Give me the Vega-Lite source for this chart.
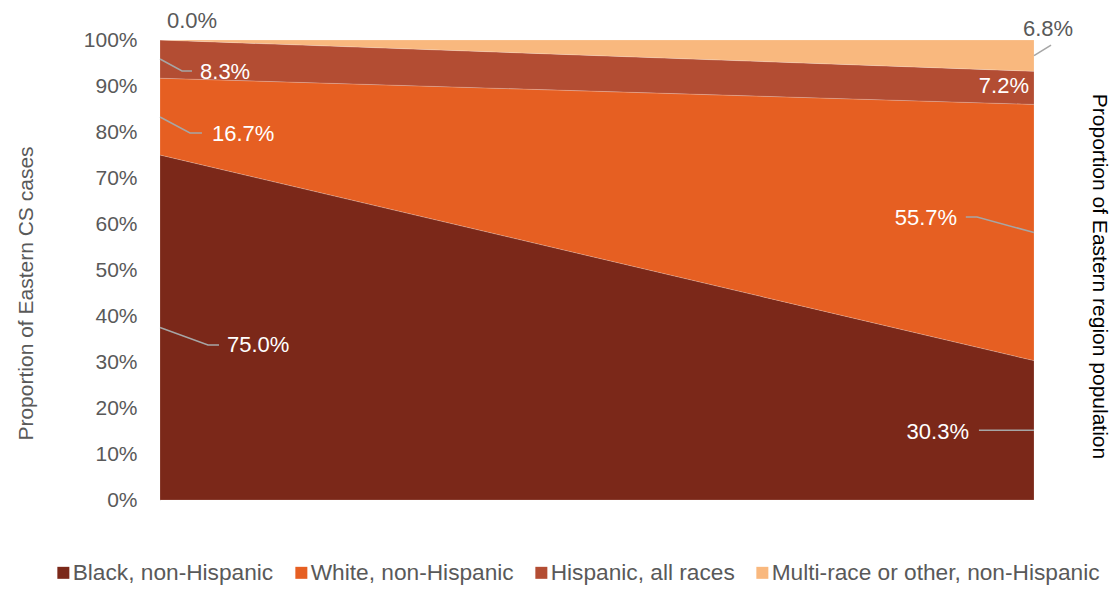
{
  "$schema": "https://vega.github.io/schema/vega-lite/v6.json",
  "autosize": {"type": "none"},
  "padding": {"left": 160, "top": 40, "right": 82, "bottom": 90},
  "width": 874,
  "height": 460,
  "background": "#ffffff",
  "config": {
    "font": "Liberation Sans",
    "view": {"stroke": null}
  },
  "datasets": {
    "shares": [
      {"group": "Black, non-Hispanic", "ord": 1, "side": 0, "pct": 75.0},
      {"group": "Black, non-Hispanic", "ord": 1, "side": 1, "pct": 30.3},
      {"group": "White, non-Hispanic", "ord": 2, "side": 0, "pct": 16.7},
      {"group": "White, non-Hispanic", "ord": 2, "side": 1, "pct": 55.7},
      {"group": "Hispanic, all races", "ord": 3, "side": 0, "pct": 8.3},
      {"group": "Hispanic, all races", "ord": 3, "side": 1, "pct": 7.2},
      {"group": "Multi-race or other, non-Hispanic", "ord": 4, "side": 0, "pct": 0.0},
      {"group": "Multi-race or other, non-Hispanic", "ord": 4, "side": 1, "pct": 6.8}
    ],
    "leaders": [
      {"id": "L1", "seq": 1, "lx": 0, "ly": 95.87},
      {"id": "L1", "seq": 2, "lx": 0.0252, "ly": 93.26},
      {"id": "L1", "seq": 3, "lx": 0.0366, "ly": 93.26},
      {"id": "L2", "seq": 1, "lx": 0, "ly": 83.26},
      {"id": "L2", "seq": 2, "lx": 0.0343, "ly": 79.78},
      {"id": "L2", "seq": 3, "lx": 0.048, "ly": 79.78},
      {"id": "L3", "seq": 1, "lx": 0, "ly": 37.5},
      {"id": "L3", "seq": 2, "lx": 0.0549, "ly": 33.7},
      {"id": "L3", "seq": 3, "lx": 0.0675, "ly": 33.7},
      {"id": "L4", "seq": 1, "lx": 0.922, "ly": 61.5},
      {"id": "L4", "seq": 2, "lx": 0.9348, "ly": 61.5},
      {"id": "L4", "seq": 3, "lx": 1, "ly": 58.15},
      {"id": "L5", "seq": 1, "lx": 0.937, "ly": 15.15},
      {"id": "L5", "seq": 2, "lx": 1, "ly": 15.15},
      {"id": "L6", "seq": 1, "lx": 1, "ly": 96.6},
      {"id": "L6", "seq": 2, "lx": 1.0195, "ly": 98.9}
    ],
    "labels": [
      {"text": "0.0%", "tx": 0.008, "ty": 104.1, "al": "left", "inside": "no"},
      {"text": "8.3%", "tx": 0.0458, "ty": 93.0, "al": "left", "inside": "yes"},
      {"text": "16.7%", "tx": 0.0595, "ty": 79.6, "al": "left", "inside": "yes"},
      {"text": "75.0%", "tx": 0.0767, "ty": 33.7, "al": "left", "inside": "yes"},
      {"text": "55.7%", "tx": 0.912, "ty": 61.3, "al": "right", "inside": "yes"},
      {"text": "30.3%", "tx": 0.9256, "ty": 14.8, "al": "right", "inside": "yes"},
      {"text": "7.2%", "tx": 0.9943, "ty": 90.0, "al": "right", "inside": "yes"},
      {"text": "6.8%", "tx": 0.9874, "ty": 102.4, "al": "left", "inside": "no"}
    ]
  },
  "layer": [
    {
      "data": {"name": "shares"},
      "mark": {"type": "area", "stroke": "#ffffff", "strokeWidth": 0.5, "strokeOpacity": 0.35},
      "encoding": {
        "x": {
          "field": "side", "type": "quantitative",
          "scale": {"domain": [0, 1], "nice": false, "zero": false},
          "axis": {"labels": false, "ticks": false, "grid": false, "title": null, "domainColor": "#d9d9d9", "domainWidth": 1}
        },
        "y": {
          "field": "pct", "type": "quantitative", "stack": "zero",
          "scale": {"domain": [0, 100], "nice": false},
          "axis": {
            "orient": "left",
            "values": [0, 10, 20, 30, 40, 50, 60, 70, 80, 90, 100],
            "labelExpr": "datum.value + '%'",
            "labelFontSize": 21,
            "labelColor": "#595959",
            "labelPadding": 23,
            "ticks": false,
            "tickSize": 0,
            "grid": false,
            "domainColor": "#d9d9d9",
            "title": "Proportion of Eastern CS cases",
            "titleFontSize": 21,
            "titleFontWeight": "normal",
            "titleColor": "#595959",
            "titleBaseline": "middle",
            "titleX": -134,
            "titleY": 253
          }
        },
        "order": {"field": "ord", "type": "quantitative", "sort": "ascending"},
        "color": {
          "field": "group", "type": "nominal",
          "scale": {
            "domain": ["Black, non-Hispanic", "White, non-Hispanic", "Hispanic, all races", "Multi-race or other, non-Hispanic"],
            "range": ["#7b2819", "#e65f22", "#b34d33", "#f9b87e"]
          },
          "legend": {
            "orient": "none",
            "legendX": -108,
            "legendY": 521,
            "direction": "horizontal",
            "title": null,
            "labelFontSize": 22.7,
            "labelColor": "#595959",
            "labelLimit": 600,
            "symbolType": "square",
            "symbolSize": 144,
            "symbolStrokeWidth": 0,
            "symbolOpacity": 1,
            "labelOffset": -2,
            "columnPadding": 16,
            "padding": 0
          }
        }
      }
    },
    {
      "data": {"name": "leaders"},
      "mark": {"type": "line", "color": "#a6a6a6", "strokeWidth": 1.5},
      "encoding": {
        "x": {"field": "lx", "type": "quantitative", "scale": {"domain": [0, 1], "nice": false, "zero": false}, "axis": null},
        "y": {"field": "ly", "type": "quantitative", "scale": {"domain": [0, 100], "nice": false}, "axis": null},
        "detail": {"field": "id", "type": "nominal"},
        "order": {"field": "seq", "type": "quantitative"}
      }
    },
    {
      "data": {"name": "labels"},
      "transform": [{"filter": "datum.al == 'left'"}],
      "mark": {"type": "text", "fontSize": 22, "baseline": "middle", "align": "left"},
      "encoding": {
        "x": {"field": "tx", "type": "quantitative", "scale": {"domain": [0, 1], "nice": false, "zero": false}, "axis": null},
        "y": {
          "field": "ty", "type": "quantitative",
          "scale": {"domain": [0, 100], "nice": false},
          "axis": {
            "orient": "right",
            "labels": false,
            "ticks": false,
            "domain": false,
            "grid": false,
            "title": "Proportion of Eastern region population",
            "titleFontSize": 21,
            "titleFontWeight": "normal",
            "titleColor": "#000000",
            "titleAngle": 90,
            "titleBaseline": "middle",
            "titleX": 64,
            "titleY": 236
          }
        },
        "text": {"field": "text", "type": "nominal"},
        "color": {
          "field": "inside", "type": "nominal",
          "scale": {"domain": ["yes", "no"], "range": ["#ffffff", "#595959"]},
          "legend": null
        }
      }
    },
    {
      "data": {"name": "labels"},
      "transform": [{"filter": "datum.al == 'right'"}],
      "mark": {"type": "text", "fontSize": 22, "baseline": "middle", "align": "right"},
      "encoding": {
        "x": {"field": "tx", "type": "quantitative", "scale": {"domain": [0, 1], "nice": false, "zero": false}, "axis": null},
        "y": {"field": "ty", "type": "quantitative", "scale": {"domain": [0, 100], "nice": false}, "axis": null},
        "text": {"field": "text", "type": "nominal"},
        "color": {
          "field": "inside", "type": "nominal",
          "scale": {"domain": ["yes", "no"], "range": ["#ffffff", "#595959"]},
          "legend": null
        }
      }
    }
  ],
  "resolve": {"axis": {"y": "independent"}, "scale": {"color": "independent"}}
}
